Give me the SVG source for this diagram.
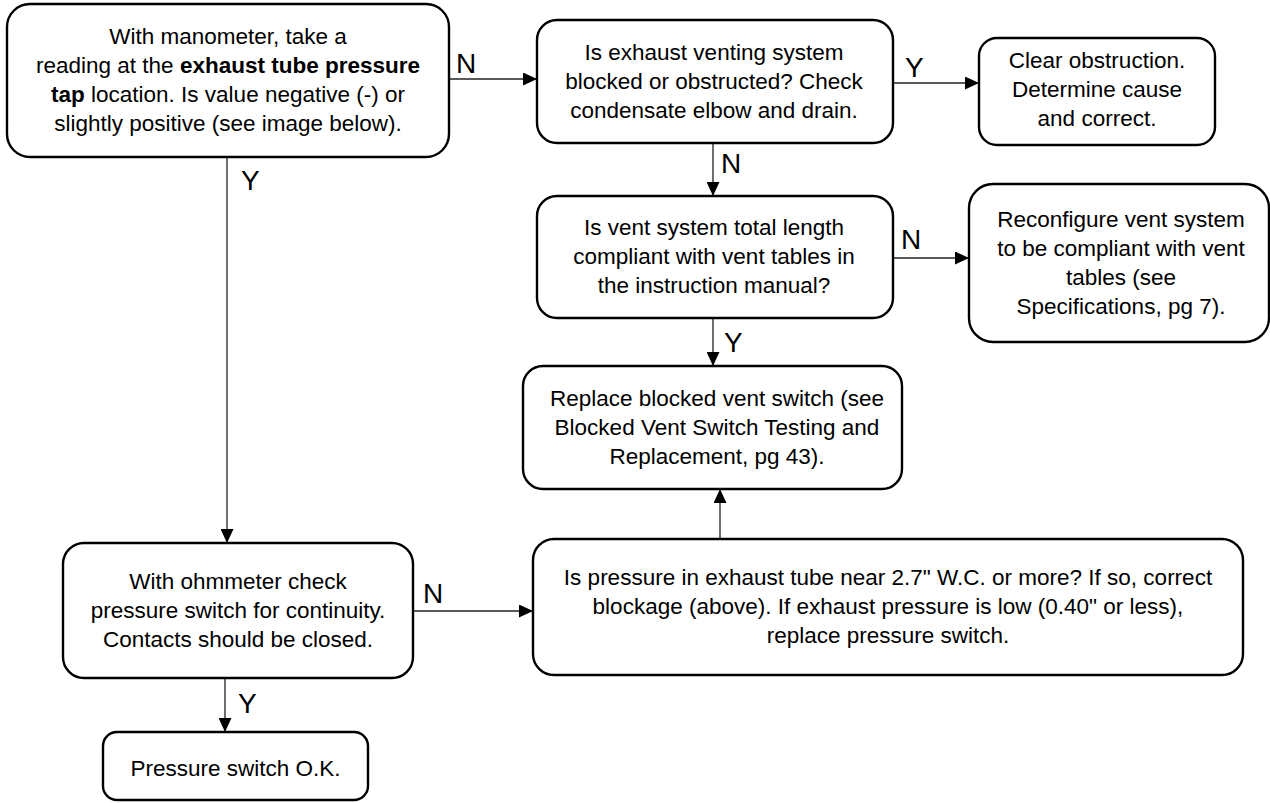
<svg xmlns="http://www.w3.org/2000/svg" width="1270" height="803" viewBox="0 0 1270 803">
<style>
.box{fill:#fff;stroke:#000;stroke-width:2.4}
.t{font-family:"Liberation Sans",Arial,sans-serif;font-size:22.5px;fill:#000;text-anchor:middle}
.b{font-weight:bold}
.lbl{font-family:"Liberation Sans",Arial,sans-serif;font-size:28px;fill:#000}
.c{fill:none;stroke:#222;stroke-width:1.3}
</style>
<defs>
<marker id="ah" markerUnits="userSpaceOnUse" markerWidth="14" markerHeight="13" refX="14" refY="6.5" orient="auto">
<path d="M0,0 L14,6.5 L0,13 z" fill="#000"/>
</marker>
</defs>
<rect width="1270" height="803" fill="#fff"/>
<g id="connectors">
<line class="c" x1="449" y1="79" x2="537" y2="79" marker-end="url(#ah)"/>
<line class="c" x1="893" y1="83" x2="979" y2="83" marker-end="url(#ah)"/>
<line class="c" x1="713" y1="143" x2="713" y2="196" marker-end="url(#ah)"/>
<line class="c" x1="893" y1="258" x2="969" y2="258" marker-end="url(#ah)"/>
<line class="c" x1="713" y1="318" x2="713" y2="366" marker-end="url(#ah)"/>
<line class="c" x1="227" y1="157" x2="227" y2="543" marker-end="url(#ah)"/>
<line class="c" x1="413" y1="611" x2="533" y2="611" marker-end="url(#ah)"/>
<line class="c" x1="225" y1="678" x2="225" y2="732" marker-end="url(#ah)"/>
<line class="c" x1="720" y1="539" x2="720" y2="489" marker-end="url(#ah)"/>
<text class="lbl" x="456" y="72.5">N</text>
<text class="lbl" x="905" y="77">Y</text>
<text class="lbl" x="721" y="173">N</text>
<text class="lbl" x="901" y="249">N</text>
<text class="lbl" x="724" y="352">Y</text>
<text class="lbl" x="241" y="190">Y</text>
<text class="lbl" x="423" y="603">N</text>
<text class="lbl" x="238" y="713">Y</text>
</g>
<g id="n1">
<rect class="box" x="7" y="4" width="442" height="153" rx="23" ry="23"/>
<text class="t" x="228" y="44">With manometer, take a</text>
<text class="t" x="228" y="73">reading at the <tspan class="b">exhaust tube pressure</tspan></text>
<text class="t" x="228" y="102"><tspan class="b">tap</tspan> location. Is value negative (-) or</text>
<text class="t" x="228" y="131">slightly positive (see image below).</text>
</g>
<g id="n2">
<rect class="box" x="537" y="20" width="356" height="123" rx="20" ry="20"/>
<text class="t" x="714" y="59.5">Is exhaust venting system</text>
<text class="t" x="714" y="88.5">blocked or obstructed? Check</text>
<text class="t" x="714" y="117.5">condensate elbow and drain.</text>
</g>
<g id="n3">
<rect class="box" x="979" y="38" width="236" height="107" rx="18" ry="18"/>
<text class="t" x="1097" y="68">Clear obstruction.</text>
<text class="t" x="1097" y="97">Determine cause</text>
<text class="t" x="1097" y="126">and correct.</text>
</g>
<g id="n4">
<rect class="box" x="537" y="196" width="356" height="122" rx="20" ry="20"/>
<text class="t" x="714" y="235">Is vent system total length</text>
<text class="t" x="714" y="264">compliant with vent tables in</text>
<text class="t" x="714" y="293">the instruction manual?</text>
</g>
<g id="n5">
<rect class="box" x="969" y="184" width="300" height="158" rx="24" ry="24"/>
<text class="t" x="1121" y="226.5">Reconfigure vent system</text>
<text class="t" x="1121" y="255.5">to be compliant with vent</text>
<text class="t" x="1121" y="284.5">tables (see</text>
<text class="t" x="1121" y="313.5">Specifications, pg 7).</text>
</g>
<g id="n6">
<rect class="box" x="523" y="366" width="379" height="123" rx="20" ry="20"/>
<text class="t" x="717" y="405.5">Replace blocked vent switch (see</text>
<text class="t" x="717" y="434.5">Blocked Vent Switch Testing and</text>
<text class="t" x="717" y="463.5">Replacement, pg 43).</text>
</g>
<g id="n7">
<rect class="box" x="533" y="539" width="710" height="136" rx="21" ry="21"/>
<text class="t" x="888" y="585">Is pressure in exhaust tube near 2.7" W.C. or more? If so, correct</text>
<text class="t" x="888" y="614">blockage (above). If exhaust pressure is low (0.40" or less),</text>
<text class="t" x="888" y="643">replace pressure switch.</text>
</g>
<g id="n8">
<rect class="box" x="63" y="543" width="350" height="135" rx="21" ry="21"/>
<text class="t" x="238" y="588.5">With ohmmeter check</text>
<text class="t" x="238" y="617.5">pressure switch for continuity.</text>
<text class="t" x="238" y="646.5">Contacts should be closed.</text>
</g>
<g id="n9">
<rect class="box" x="103" y="732" width="265" height="68" rx="14" ry="14"/>
<text class="t" x="235.5" y="776">Pressure switch O.K.</text>
</g>
</svg>
